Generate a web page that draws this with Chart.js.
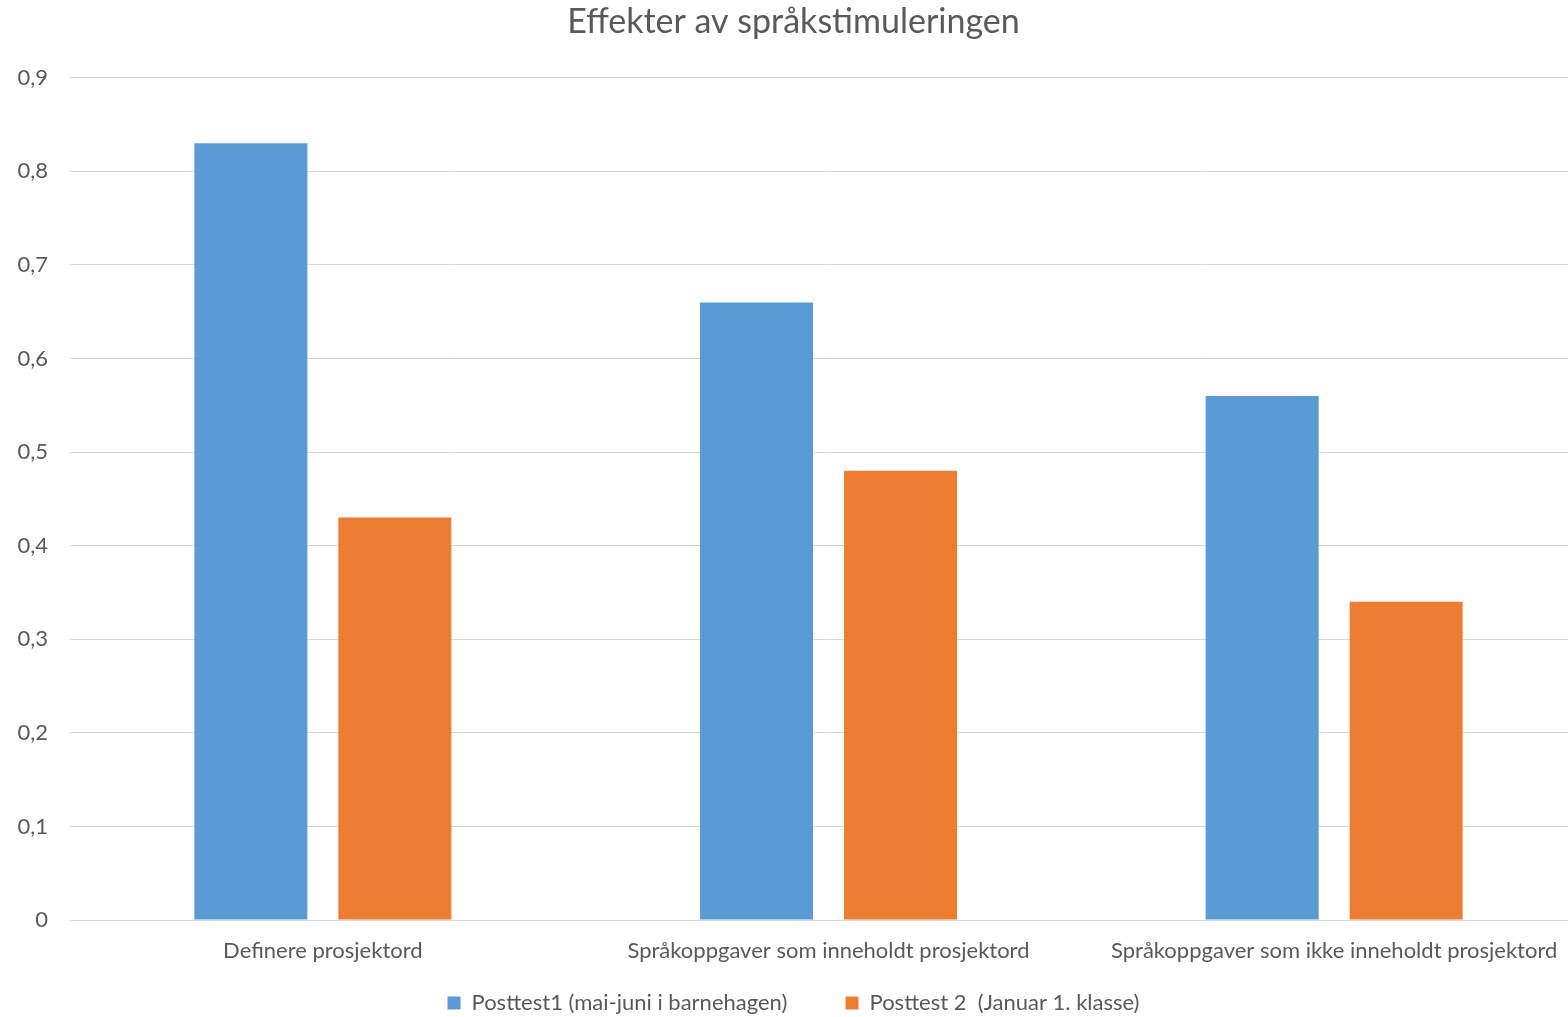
<!DOCTYPE html>
<html>
<head>
<meta charset="utf-8">
<script src="https://cdn.jsdelivr.net/npm/chart.js@4"></script>
<style>
html,body{margin:0;padding:0;background:#fff;overflow:hidden;width:1568px;height:1017px;}
#wrap{width:1587px;height:1017px;position:relative;}
</style>
</head>
<body>
<div id="wrap"><canvas id="c"></canvas></div>
<script>
const categories = ["Definere prosjektord", "Språkoppgaver som inneholdt prosjektord", "Språkoppgaver som ikke inneholdt prosjektord"];
const seriesNames = ["Posttest1 (mai-juni i barnehagen)", "Posttest 2  (Januar 1. klasse)"];
const posttest1 = [0.83, 0.66, 0.56];
const posttest2 = [0.43, 0.48, 0.34];
const yTicks = [0, 0.1, 0.2, 0.3, 0.4, 0.5, 0.6, 0.7, 0.8, 0.9];

const FONT = "Lato, 'Open Sans', sans-serif";
const TXT = "#595959";

new Chart(document.getElementById('c'), {
  type: 'bar',
  data: {
    labels: categories,
    datasets: [
      { label: seriesNames[0], data: posttest1, backgroundColor: '#5B9BD5', borderWidth: 0 },
      { label: seriesNames[1], data: posttest2, backgroundColor: '#ED7D31', borderWidth: 0 }
    ]
  },
  options: {
    responsive: true,
    maintainAspectRatio: false,
    animation: false,
    devicePixelRatio: 1,
    layout: { padding: { left: 0, right: 0, top: 0, bottom: -7 } },
    datasets: { bar: { categoryPercentage: 0.5695, barPercentage: 0.785 } },
    plugins: {
      title: {
        display: true,
        text: 'Effekter av språkstimuleringen',
        color: TXT,
        font: { family: FONT, size: 34, weight: 'normal' },
        padding: { top: 2, bottom: 35 }
      },
      legend: {
        position: 'bottom',
        labels: {
          color: TXT,
          font: { family: FONT, size: 22 },
          boxWidth: 13,
          boxHeight: 13,
          padding: 30,
          generateLabels: (chart) => {
            const items = Chart.defaults.plugins.legend.labels.generateLabels(chart);
            if (items.length) items[0].text = items[0].text + '     ';
            return items;
          }
        }
      },
      tooltip: { enabled: false }
    },
    scales: {
      x: {
        grid: { display: false },
        border: { display: true, color: '#D9D9D9', width: 1 },
        afterFit: (s) => { s.height = 42; },
        ticks: { color: TXT, font: { family: FONT, size: 22 }, padding: 10, maxRotation: 0 }
      },
      y: {
        min: 0,
        max: 0.9,
        afterBuildTicks: (s) => { s.ticks = yTicks.map(v => ({ value: v })); },
        afterFit: (s) => { s.width = 70; },
        grid: { color: '#D9D9D9', lineWidth: 1, drawTicks: false },
        border: { display: false },
        ticks: {
          color: TXT,
          font: { family: FONT, size: 22 },
          padding: 22,
          callback: (v) => v === 0 ? '0' : v.toFixed(1).replace('.', ',')
        }
      }
    }
  }
});
</script>
</body>
</html>
